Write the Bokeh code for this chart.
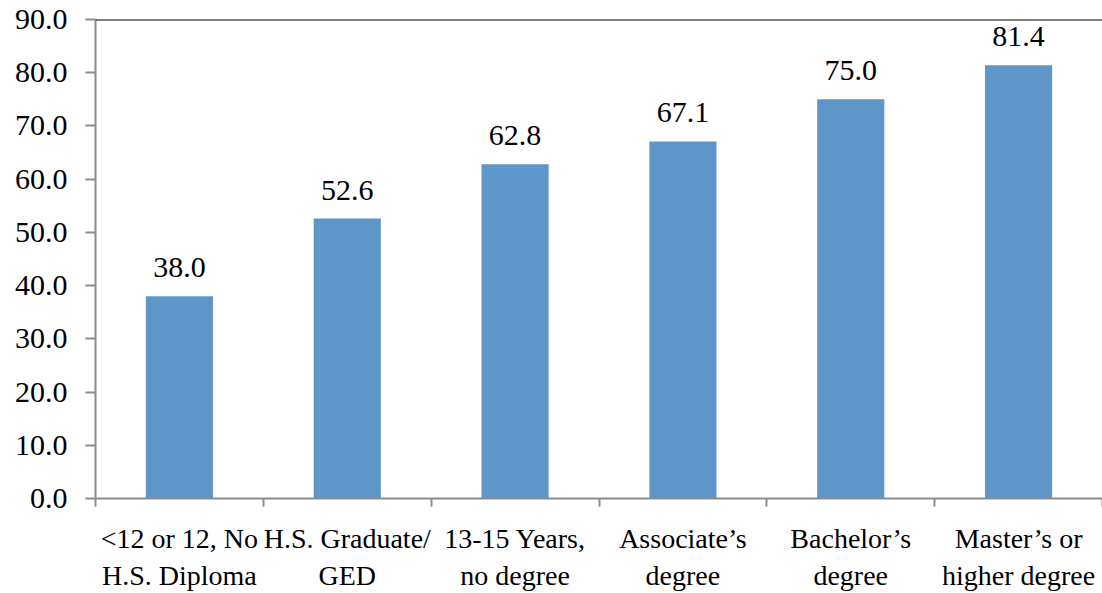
from bokeh.plotting import figure
from bokeh.models import (Range1d, LinearAxis, FixedTicker,
                          NumeralTickFormatter, Span, ColumnDataSource)
from bokeh.core.properties import value
from bokeh.embed import file_html
from bokeh.resources import INLINE

categories = ["<12 or 12, No\nH.S. Diploma", "H.S. Graduate/\nGED", "13-15 Years,\nno degree",
              "Associate\u2019s\ndegree", "Bachelor\u2019s\ndegree", "Master\u2019s or\nhigher degree"]
values = [38.0, 52.6, 62.8, 67.1, 75.0, 81.4]
y_ticks = [0, 10, 20, 30, 40, 50, 60, 70, 80, 90]

n = len(categories)
xs = list(range(n))
labels = [f"{v:.1f}" for v in values]
src = ColumnDataSource(dict(x=xs, val=values, lab=labels))

FONT = "'Liberation Serif', 'Times New Roman', serif"
GREY = "#8c8c8c"

p = figure(width=1102, height=593,
           x_range=Range1d(-0.5, n - 0.5),
           y_range=Range1d(0, 90),
           output_backend="svg", toolbar_location=None,
           x_axis_location=None, y_axis_location="left",
           min_border_left=95, min_border_top=19, min_border_right=0, min_border_bottom=0)
p.outline_line_color = None
p.background_fill_color = "white"
p.border_fill_color = "white"

p.vbar(x="x", top="val", width=0.4, source=src, fill_color="#5F96C9", line_color=None)
p.text(x="x", y="val", text="lab", source=src, text_font=value(FONT), text_font_size="30px",
       text_align="center", text_baseline="bottom", y_offset=-19, text_color="black")

# y axis
ya = p.yaxis[0]
ya.ticker = FixedTicker(ticks=y_ticks)
ya.formatter = NumeralTickFormatter(format="0.0")
ya.major_tick_out = 10
ya.major_tick_in = 0
ya.minor_tick_line_color = None
ya.axis_line_color = GREY
ya.axis_line_width = 2
ya.major_tick_line_color = GREY
ya.major_tick_line_width = 2
ya.major_label_text_font = FONT
ya.major_label_text_font_size = "30px"
ya.major_label_text_color = "black"
ya.major_label_standoff = 18

# x axis: boundary ticks (no labels)
ax1 = LinearAxis(ticker=FixedTicker(ticks=[i - 0.5 for i in range(n + 1)]),
                 major_label_text_font_size="1px", major_label_text_alpha=0,
                 major_label_standoff=0,
                 major_tick_out=8, major_tick_in=0, minor_tick_line_color=None,
                 axis_line_color=GREY, axis_line_width=2,
                 major_tick_line_color=GREY, major_tick_line_width=2)
p.add_layout(ax1, "below")

# x axis: category labels
ax2 = LinearAxis(ticker=FixedTicker(ticks=xs),
                 major_label_overrides={i: c for i, c in zip(xs, categories)},
                 major_tick_line_color=None, axis_line_color=None, minor_tick_line_color=None,
                 major_tick_out=0, major_tick_in=0,
                 major_label_text_font=FONT, major_label_text_font_size="28px",
                 major_label_text_line_height=1.2,
                 major_label_text_color="black", major_label_standoff=16)
p.add_layout(ax2, "below")

p.grid.visible = False

p.add_layout(Span(location=90, dimension="width", line_color="black", line_width=2))

open("out.html", "w").write(file_html(p, INLINE))
